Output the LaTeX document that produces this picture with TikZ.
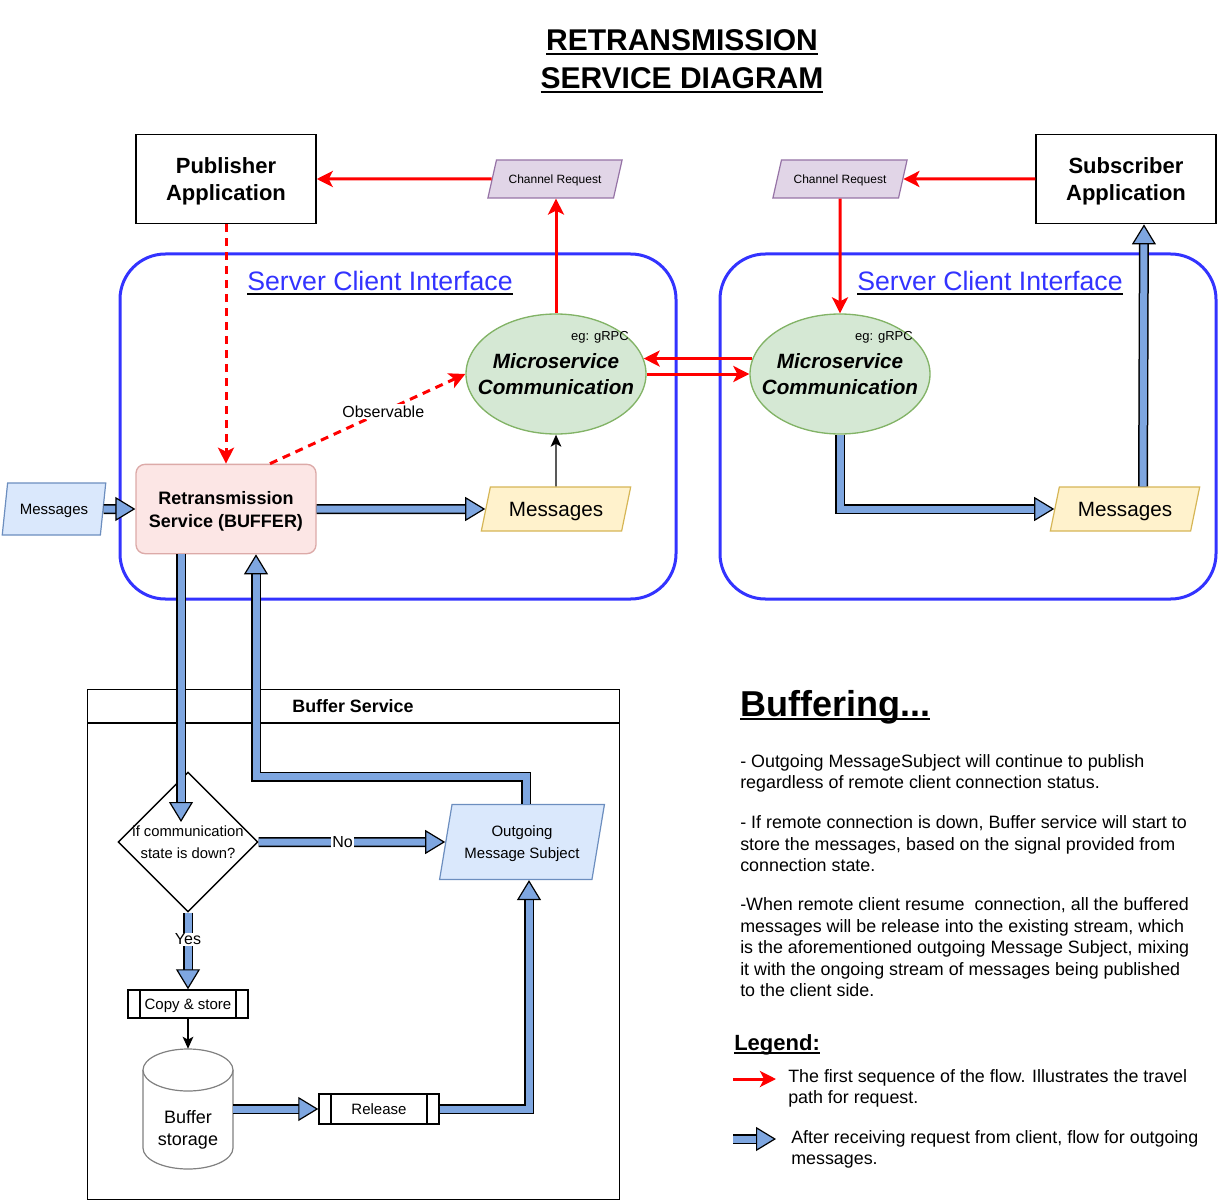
\documentclass[tikz,border=0pt]{standalone}
\usepackage{fontspec}
\setmainfont{Liberation Sans}
\usetikzlibrary{arrows.meta,shapes.geometric,positioning}

\definecolor{flowblue}{HTML}{7EA6E0}
\definecolor{sciblue}{HTML}{3333FF}
\definecolor{reqfill}{HTML}{E1D5E7}
\definecolor{reqline}{HTML}{9673A6}
\definecolor{msfill}{HTML}{D5E8D4}
\definecolor{msline}{HTML}{82B366}
\definecolor{rtfill}{HTML}{FCE6E5}
\definecolor{rtline}{HTML}{DCAAA8}
\definecolor{msgfill}{HTML}{FFF2CC}
\definecolor{msgline}{HTML}{D6B656}
\definecolor{bluefill}{HTML}{DAE8FC}
\definecolor{blueline}{HTML}{6C8EBF}
\definecolor{storeline}{HTML}{808080}

\newcommand{\fsz}[2]{\fontsize{#1}{#2}\selectfont}
% underline in black below the baseline
\newcommand{\uln}[1]{\leavevmode\setbox0\hbox{#1}%
  \rlap{\color{black}\rule[-2.8pt]{\wd0}{1.4pt}}\box0}

\begin{document}
\begin{tikzpicture}[
  x=0.75pt, y=-0.75pt,
  app/.style={draw, line width=1.1pt, minimum width=135pt, minimum height=67pt,
    align=center, text depth=0pt, font=\fsz{16.5}{20}\bfseries},
  creq/.style={trapezium, trapezium left angle=52, trapezium right angle=128,
    trapezium stretches=true, draw=reqline, fill=reqfill, line width=0.9pt,
    minimum width=101pt, minimum height=28.5pt, inner sep=0pt, text depth=0pt,
    font=\fsz{9}{11}},
  sci/.style={draw=sciblue, line width=2.25pt, rounded corners=34pt},
  scititle/.style={font=\fsz{20}{24}},
  msvc/.style={ellipse, draw=msline, fill=msfill, line width=1pt,
    minimum width=135pt, minimum height=90pt, inner sep=0pt},
  msvctext/.style={align=center, inner sep=0pt, text depth=0pt,
    font=\fsz{15.5}{19.5}\bfseries\itshape},
  tag/.style={inner sep=0pt, font=\fsz{9.75}{12}},
  retx/.style={draw=rtline, fill=rtfill, line width=1pt, rounded corners=6.75pt,
    minimum width=135pt, minimum height=67pt, align=center, text depth=0pt,
    font=\fsz{13.5}{17.25}\bfseries},
  msgy/.style={trapezium, trapezium left angle=65.5, trapezium right angle=114.5,
    trapezium stretches=true, draw=msgline, fill=msgfill, line width=0.9pt,
    minimum width=112.5pt, minimum height=33pt, inner sep=0pt, text depth=0pt,
    font=\fsz{15.5}{18}},
  msgb/.style={trapezium, trapezium left angle=69, trapezium right angle=111,
    trapezium stretches=true, draw=blueline, fill=bluefill, line width=0.9pt,
    minimum width=78pt, minimum height=39pt, inner sep=0pt, text depth=0pt,
    font=\fsz{11.25}{13}},
  subj/.style={trapezium, trapezium left angle=73, trapezium right angle=107,
    trapezium stretches=true, draw=blueline, fill=bluefill, line width=0.9pt,
    minimum width=123.75pt, minimum height=56.25pt, inner sep=0pt, align=center,
    text depth=0pt, font=\fsz{11.25}{17}},
  container/.style={draw, line width=1.1pt, minimum width=399pt, minimum height=382.5pt,
    anchor=north west, inner sep=0pt},
  decide/.style={diamond, draw, line width=1.1pt, minimum width=105pt,
    minimum height=105pt, inner sep=0pt},
  proc/.style={draw, line width=1.1pt, minimum width=90pt, inner sep=0pt,
    text depth=0pt, font=\fsz{11.25}{13},
    path picture={\draw[line width=1.1pt]
      ([xshift=9pt]path picture bounding box.north west) --
      ([xshift=9pt]path picture bounding box.south west)
      ([xshift=-9pt]path picture bounding box.north east) --
      ([xshift=-9pt]path picture bounding box.south east);}},
  para/.style={anchor=base west, align=left, inner sep=0pt, font=\fsz{13.4}{16.1}},
  req/.style={draw=red, line width=2.25pt, -{Stealth[length=12pt,width=12pt,inset=3pt]}},
  reqdash/.style={req, dash pattern=on 6pt off 4.5pt},
  thin/.style={draw, line width=1.1pt, -{Stealth[length=9pt,width=8pt,inset=2.2pt]}},
  flow/.style={draw=flowblue, line width=5.25pt,
    -{Triangle[length=15pt,width=18pt,line width=0.9pt,color=black,fill=flowblue]},
    preaction={draw=black, line width=7.5pt, -, shorten >=10pt}},
]
\useasboundingbox (0,0) rectangle (1218,1202);

% title
\node (title) [anchor=base, align=center, font=\fsz{22.5}{28.5}\bfseries] at (682,89)
  {\uln{RETRANSMISSION}\\\uln{SERVICE DIAGRAM}};

% server client interfaces
\draw [sci] (120,254) rectangle (676,599);
\draw [sci] (720,254) rectangle (1216,599);
\node (sciL) [scititle] at (380,283) {\uln{\textcolor{sciblue}{Server Client Interface}}};
\node (sciR) [scititle] at (990,283) {\uln{\textcolor{sciblue}{Server Client Interface}}};

% applications
\node (pub) [app] at (226,179) {Publisher\\Application};
\node (sub) [app] at (1126,179) {Subscriber\\Application};
\node (creqL) [creq] at (555,179) {Channel Request};
\node (creqR) [creq] at (840,179) {Channel Request};

% microservices
\node (msvcL) [msvc] at (556,374) {};
\node (msvcR) [msvc] at (840,374) {};
\node (msvcLtxt) [msvctext] at (msvcL.center) {Microservice\\Communication};
\node (msvcRtxt) [msvctext] at (msvcR.center) {Microservice\\Communication};
\node (tagL) [tag] at (600,337) {eg: gRPC};
\node (tagR) [tag] at (884,337) {eg: gRPC};

\node (retx) [retx] at (226,509) {Retransmission\\Service (BUFFER)};
\node (msgIn) [msgb] at (54,509) {Messages};
\node (msgL) [msgy] at (556,509) {Messages};
\node (msgR) [msgy] at (1125,509) {Messages};

% buffer service
\node (bufsvc) [container] at (87,689) {};
\draw [line width=1.1pt] ([yshift=-25.5pt]bufsvc.north west) -- ([yshift=-25.5pt]bufsvc.north east);
\node (bufttl) [font=\fsz{13.4}{16}\bfseries] at (353,706) {Buffer Service};

\node (cond) [decide] at (188,842) {};
\node (condtxt) [align=center, text depth=0pt, font=\fsz{11.1}{16.5}] at (cond.center)
  {if communication\\state is down?};
\node (subj) [subj] at (522,842) {Outgoing\\Message Subject};
\node (copy) [proc, minimum height=21pt] at (188,1004) {Copy \& store};
\node (release) [proc, minimum height=22.5pt] at (379,1109) {Release};

% buffer storage
\node (store) [minimum width=67.5pt, minimum height=90pt, inner sep=0pt] at (188,1109) {};
\draw [draw=storeline, line width=0.9pt, fill=white]
  (143,1070) -- (143,1148) arc [start angle=180, end angle=0, x radius=45, y radius=21]
  -- (233,1070);
\draw [draw=storeline, line width=0.9pt, fill=white] (188,1070) ellipse [x radius=45, y radius=21];
\node (storetxt) [align=center, text depth=0pt, font=\fsz{13.5}{16.5}] at (188,1128) {Buffer\\storage};

% request path
\draw [req] (creqL.west) -- (pub.east);
\draw [req] (msvcL.north) -- (msvcL.north |- creqL.south);
\draw [req] (sub.west) -- (creqR.east);
\draw [req] (creqR.south) -- (msvcR.north);
\draw [req] (msvcR.170) -- (msvcL.10);
\draw [req] (msvcL.east) -- (msvcR.west);
\draw [reqdash] (pub.south) -- (retx.north);
\draw [reqdash] ([xshift=33pt]retx.north) -- (msvcL.west)
  node [pos=0.58, fill=white, inner sep=1pt, font=\fsz{12}{14}] {Observable};
\draw [thin] (msgL.north) -- (msvcL.south);
\draw [thin] (copy.south) -- (store.north);

% message flow
\draw [flow] (msgIn.east) -- (retx.west);
\draw [flow] (retx.east) -- (msgL.west);
\draw [flow] (msvcR.south) |- (msgR.west);
\draw [flow] ([xshift=13.5pt]msgR.north) -- ([xshift=13.5pt]sub.south);
\draw [flow] ([xshift=-33.75pt]retx.south) -- ([xshift=-5.25pt,yshift=15pt]cond.center);
\draw [flow] ([xshift=3pt]subj.north) -- ++(0,-27) -| ([xshift=22.5pt]retx.south);
\draw [flow] (cond.east) -- (subj.west)
  node [pos=0.45, fill=white, inner sep=1pt, font=\fsz{12}{14}] {No};
\draw [flow] (cond.south) -- (copy.north)
  node [pos=0.35, fill=white, inner sep=1pt, font=\fsz{12}{14}] {Yes};
\draw [flow] (store.east) -- (release.west);
\draw [flow] (release.east) -| ([xshift=5.25pt]subj.south);

% notes
\node (buffering) [anchor=base west, inner sep=0pt, font=\fsz{27}{30}\bfseries] at (740,716)
  {\uln{Buffering...}};
\node (note1) [para] at (740,788.5)
  {- Outgoing MessageSubject will continue to publish\\regardless of remote client connection status.};
\node (note2) [para] at (740,871.5)
  {- If remote connection is down, Buffer service will start to\\store the messages, based on the signal provided from\\connection state.};
\node (note3) [para] at (740,996.5)
  {-When remote client resume~ connection, all the buffered\\messages will be release into the existing stream, which\\is the aforementioned outgoing Message Subject, mixing\\it with the ongoing stream of messages being published\\to the client side.};

% legend
\node (legend) [anchor=base west, inner sep=0pt, font=\fsz{16.5}{20}\bfseries] at (734,1050)
  {\uln{Legend:}};
\coordinate (lgReqA) at (733,1079);
\coordinate (lgReqB) at (776,1079);
\coordinate (lgFlowA) at (733,1139);
\coordinate (lgFlowB) at (776,1139);
\draw [req] (lgReqA) -- (lgReqB);
\draw [flow] (lgFlowA) -- (lgFlowB);
\node (lgReq) [para] at (788,1103.5)
  {The first sequence of the flow. Illustrates the travel\\path for request.};
\node (lgFlow) [para] at (791,1164.5)
  {After receiving request from client, flow for outgoing\\messages.};

\end{tikzpicture}
\end{document}
